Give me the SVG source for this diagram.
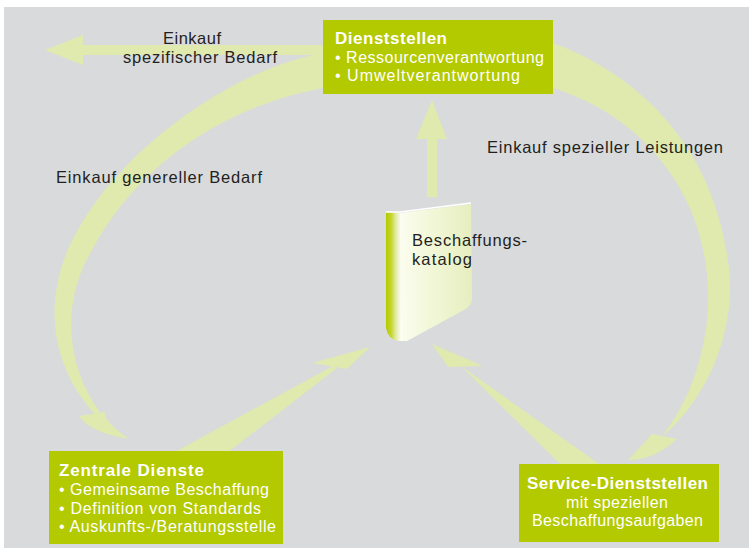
<svg xmlns="http://www.w3.org/2000/svg" width="749" height="548" viewBox="0 0 749 548">
<defs>
<style>
.arrow{fill:#e0e9ae;}
.box{fill:#b3c900;}
.lbl{font-family:"Liberation Sans",Arial,sans-serif;font-size:16.5px;fill:#231f20;}
.bt{font-family:"Liberation Sans",Arial,sans-serif;font-size:17px;font-weight:bold;fill:#ffffff;}
.bx{font-family:"Liberation Sans",Arial,sans-serif;font-size:16px;fill:#ffffff;}
.bk{font-family:"Liberation Sans",Arial,sans-serif;font-size:16.5px;fill:#231f20;}
</style>
<linearGradient id="cover" x1="0" y1="0" x2="1" y2="0">
<stop offset="0" stop-color="#fbfdf0"/>
<stop offset="0.35" stop-color="#f4f8dc"/>
<stop offset="1" stop-color="#e6eebf"/>
</linearGradient>
<linearGradient id="spine" x1="0" y1="0" x2="1" y2="0">
<stop offset="0" stop-color="#b3c900"/>
<stop offset="0.25" stop-color="#c4d62a"/>
<stop offset="0.45" stop-color="#e0eaa0"/>
<stop offset="0.75" stop-color="#ffffff"/>
<stop offset="1" stop-color="#eef3d0"/>
</linearGradient>
</defs>
<rect x="4" y="7" width="745" height="541" fill="#d9dadc"/>
<g id="connectors">
<path class="arrow" d="M83,45 L323,45 L323,55 L83,55 L83,65 L45,50 L83,35 Z"/>
<path class="arrow" d="M323,53 C230,70 120,150 75,235 C45,290 45,360 95,414 L100,412 C72,375 56,310 92,250 C140,160 230,105 323,88 Z"/>
<path class="arrow" d="M79,416 L105,412 Q103,421 129,439 Q90,432.5 79,416 Z"/>
<path class="arrow" d="M553,43 C640,75 720,150 730,280 C732,340 705,400 663,436 L665,432 C690,400 710,345 708,290 C705,190 640,115 553,88 Z"/>
<path class="arrow" d="M652,434 Q641,446 628,460 Q653.5,460.5 677,439 Z"/>
<path class="arrow" d="M173,453 L333,366 L337,368 L227,453 Z"/>
<path class="arrow" d="M312,363 L370,347 L347,369 Z"/>
<path class="arrow" d="M562,466 L462,367 L465,369 L602,466 Z"/>
<path class="arrow" d="M448,367 L432,344 L483,366 Z"/>
<rect class="arrow" x="427" y="138" width="10" height="59"/>
<path class="arrow" d="M416,139 L432,100 L447,139 Z"/>
</g>
<g id="label-spezifisch">
<text class="lbl"><tspan x="163" y="44" textLength="58">Einkauf</tspan><tspan x="123" y="63" textLength="154">spezifischer Bedarf</tspan></text>
</g>
<g id="label-generell">
<text class="lbl" x="56" y="183" textLength="206">Einkauf genereller Bedarf</text>
</g>
<g id="label-speziell">
<text class="lbl" x="487" y="153" textLength="236">Einkauf spezieller Leistungen</text>
</g>
<g id="dienststellen">
<rect class="box" x="323" y="20" width="230" height="74"/>
<text class="bx"><tspan class="bt" x="335" y="44" textLength="112">Dienststellen</tspan><tspan x="335" y="63" textLength="209">• Ressourcenverantwortung</tspan><tspan x="335" y="81" textLength="185">• Umweltverantwortung</tspan></text>
</g>
<g id="katalog">
<path d="M386,212 L401,213 L407,341 L398,341 Q388,339 386,328 Z" fill="url(#spine)"/>
<path d="M400,213 L471,204 L472,298 Q472,306 464,310 L407,341 L402,341 Z" fill="url(#cover)"/>
<path d="M386,212 L400,212 L471,203" fill="none" stroke="#ffffff" stroke-width="1.5"/>
<text class="bk"><tspan x="412" y="246" textLength="115">Beschaffungs-</tspan><tspan x="412" y="265" textLength="60">katalog</tspan></text>
</g>
<g id="zentrale-dienste">
<rect class="box" x="49" y="451" width="234" height="93"/>
<text class="bx"><tspan class="bt" x="59" y="476" textLength="145">Zentrale Dienste</tspan><tspan x="59" y="495" textLength="210">• Gemeinsame Beschaffung</tspan><tspan x="59" y="513.5" textLength="202">• Definition von Standards</tspan><tspan x="59" y="532" textLength="217">• Auskunfts-/Beratungsstelle</tspan></text>
</g>
<g id="service-dienststellen">
<rect class="box" x="519" y="464" width="200" height="78"/>
<text class="bx"><tspan class="bt" x="527" y="489" textLength="181">Service-Dienststellen</tspan><tspan x="566" y="507.5" textLength="102">mit speziellen</tspan><tspan x="532" y="526" textLength="171">Beschaffungsaufgaben</tspan></text>
</g>
</svg>
